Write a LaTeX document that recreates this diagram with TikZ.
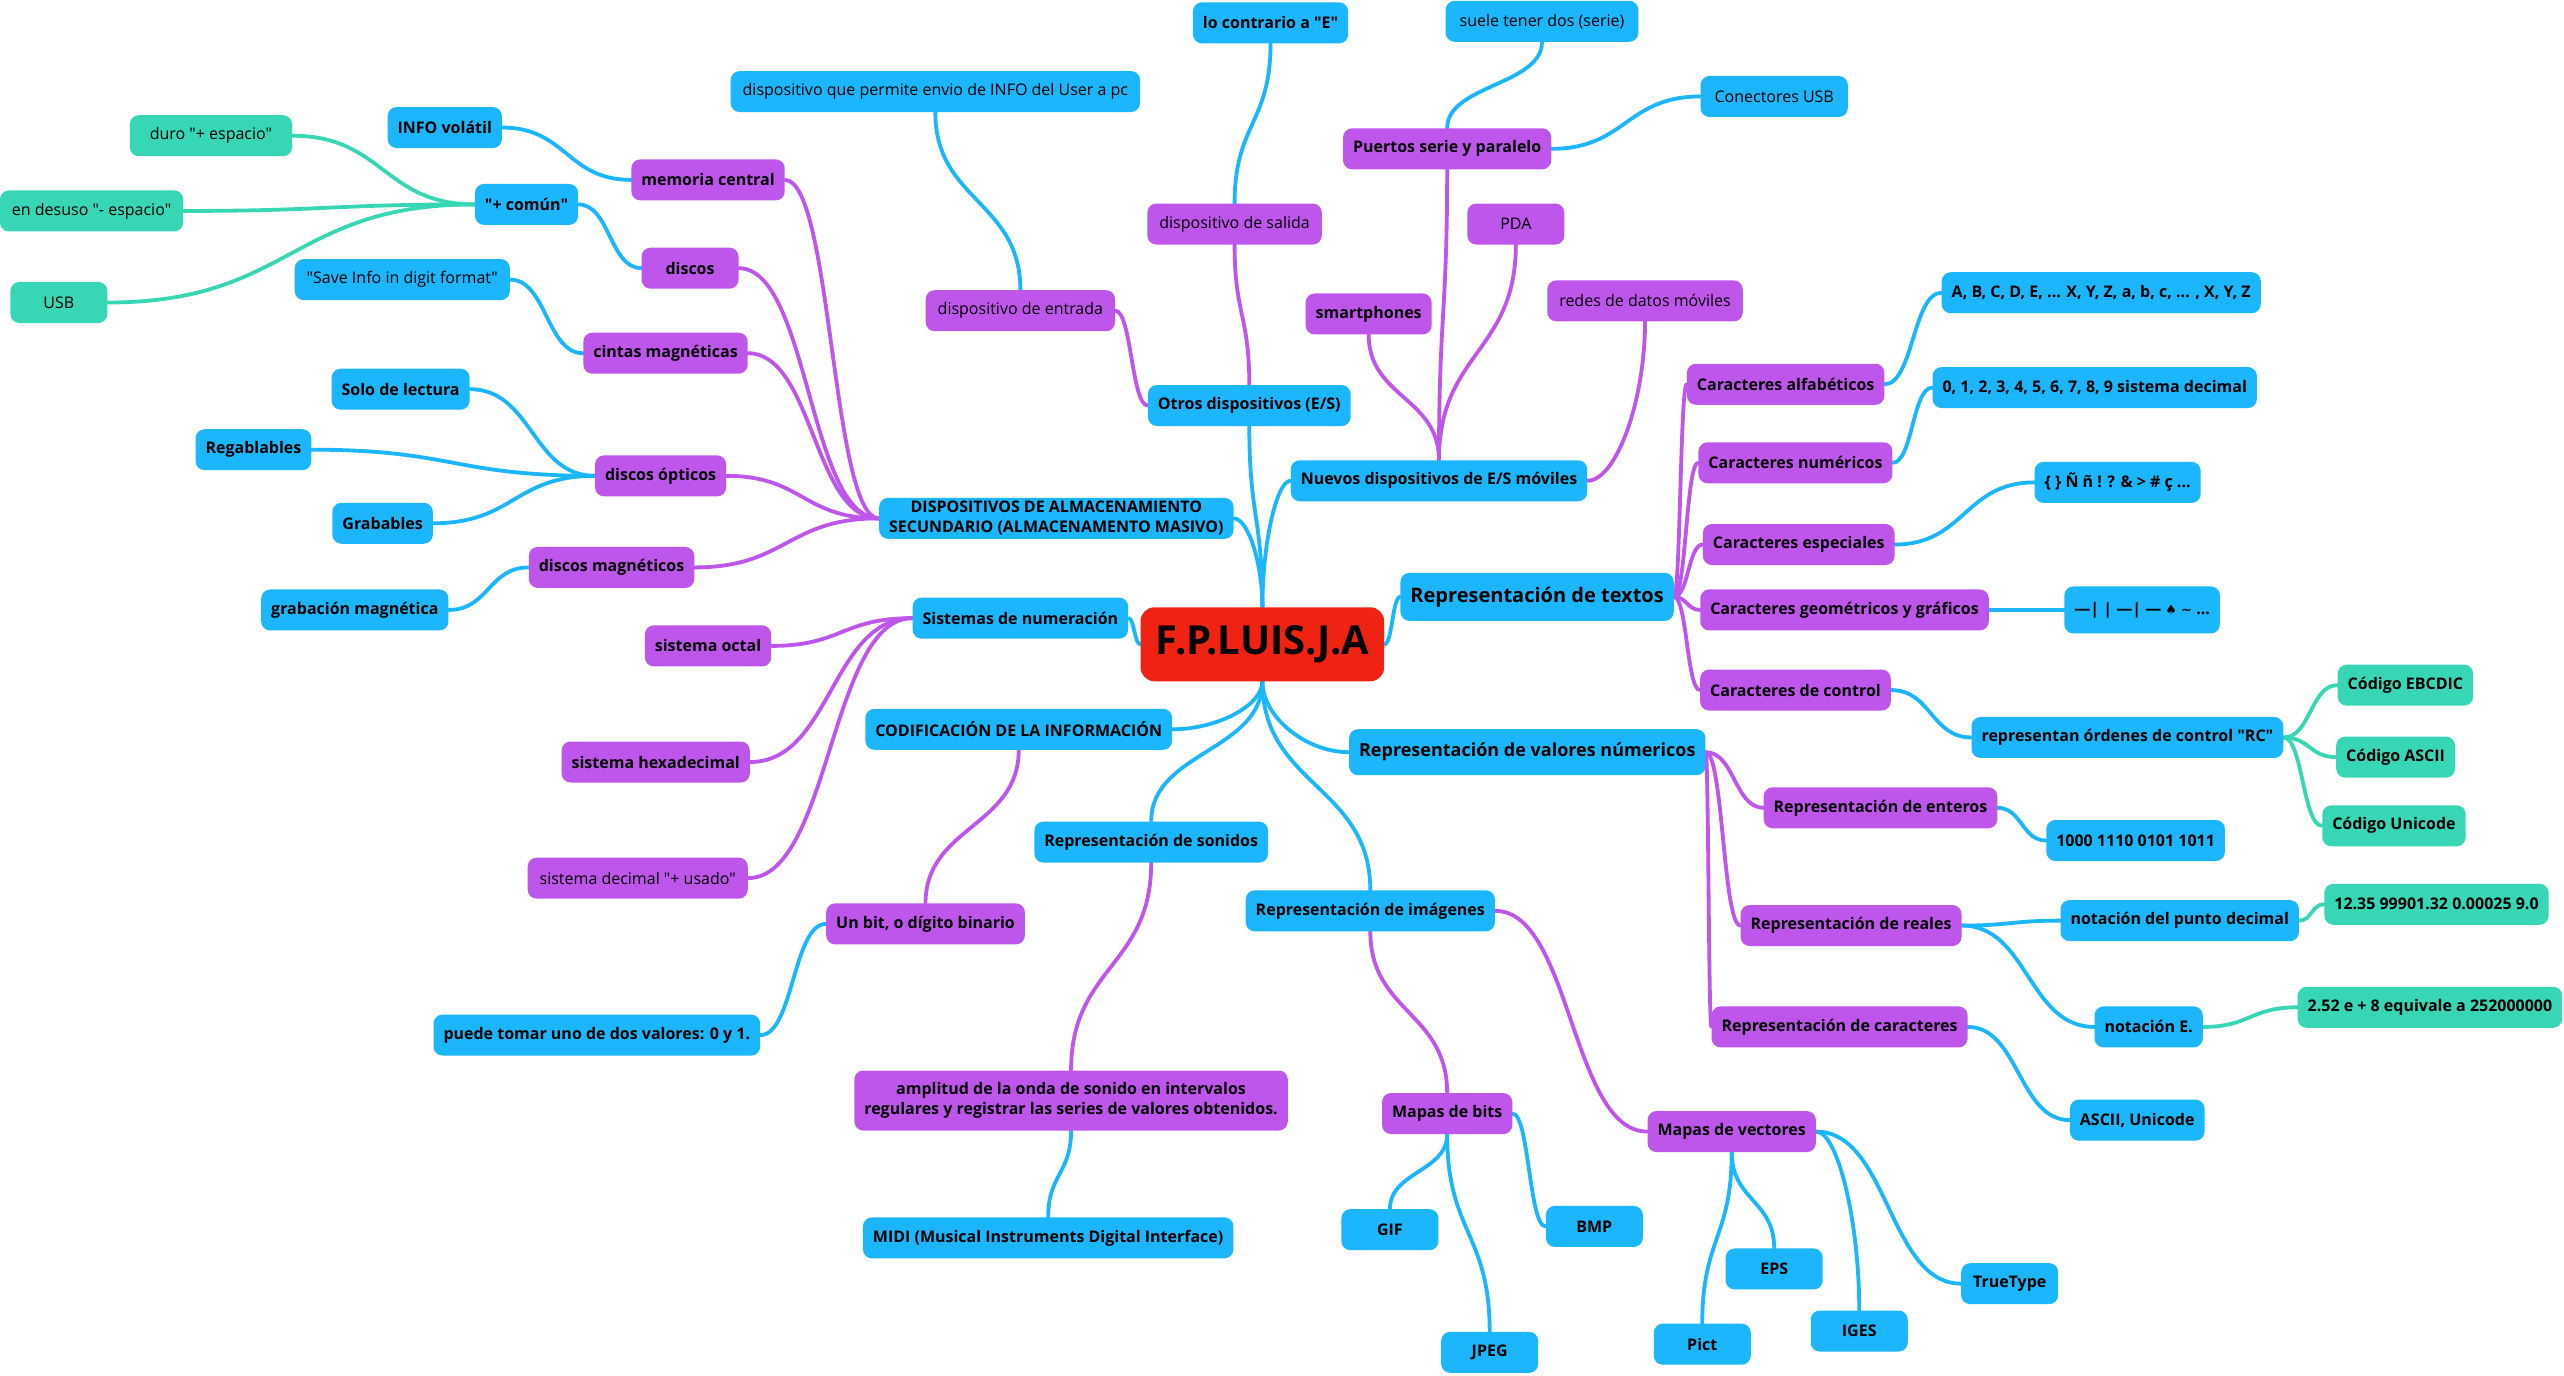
\documentclass[tikz,border=0pt]{standalone}
\usepackage{fontspec}
\setmainfont{Open Sans}[Ligatures=TeXOff]
\newfontfamily\symfont{DejaVu Sans}
\usetikzlibrary{calc,backgrounds}
\definecolor{mmblue}{RGB}{28,182,252}
\definecolor{mmpurple}{RGB}{190,86,236}
\definecolor{mmgreen}{RGB}{55,215,182}
\definecolor{mmred}{RGB}{240,35,19}
\newcommand\mmhh[3]{\draw[#1] let \p1=(#2), \p2=(#3), \p3=($(\p1)!0.5!(\p2)$) in (\p1) .. controls (\x3,\y1) and (\x3,\y2) .. (\p2);}
\newcommand\mmvv[3]{\draw[#1] let \p1=(#2), \p2=(#3), \p3=($(\p1)!0.5!(\p2)$) in (\p1) .. controls (\x1,\y3) and (\x2,\y3) .. (\p2);}
\newcommand\mmvh[3]{\draw[#1] let \p1=(#2), \p2=(#3), \p3=($(\p1)!0.5!(\p2)$) in (\p1) .. controls (\x1,\y3) and (\x3,\y2) .. (\p2);}
\newcommand\mmhv[3]{\draw[#1] let \p1=(#2), \p2=(#3), \p3=($(\p1)!0.5!(\p2)$) in (\p1) .. controls (\x3,\y1) and (\x2,\y3) .. (\p2);}
\tikzset{
  mm/.style={rounded corners=9pt, inner xsep=10pt, inner ysep=2pt, minimum height=41pt, minimum width=97pt,
    font=\fontsize{16}{20}\selectfont\bfseries, align=center, text=black},
  bn/.style={mm, fill=mmblue},
  pn/.style={mm, fill=mmpurple},
  gn/.style={mm, fill=mmgreen},
  rg/.style={font=\fontsize{16}{20}\selectfont\mdseries, inner xsep=12pt},
  big/.style={font=\fontsize{20}{24}\selectfont\bfseries, minimum height=48pt},
  cb/.style={draw=mmblue, line width=3.8pt, line cap=round},
  cp/.style={draw=mmpurple, line width=3.8pt, line cap=round},
  cg/.style={draw=mmgreen, line width=3.8pt, line cap=round},
}
\begin{document}
\begin{tikzpicture}[x=1.6352pt,y=1.6352pt]
\useasboundingbox (0,0) rectangle (1568,-841);
% root
\node[mm, fill=mmred, rounded corners=14pt, inner xsep=15pt, minimum height=74pt, font=\fontsize{40}{44}\selectfont\bfseries] (root) at (772,-394) {F.P.LUIS.J.A};
% level 1
\node[bn] (disp) at (646,-317) {DISPOSITIVOS DE ALMACENAMIENTO\\SECUNDARIO (ALMACENAMENTO MASIVO)};
\node[bn] (sist) at (624,-378) {Sistemas de numeración};
\node[bn] (codif) at (623,-446) {CODIFICACIÓN DE LA INFORMACIÓN};
\node[bn] (sonidos) at (704,-515) {Representación de sonidos};
\node[bn] (imagenes) at (838,-557) {Representación de imágenes};
\node[bn, big, font=\fontsize{18}{22}\selectfont\bfseries, minimum height=46pt] (valores) at (934,-460) {Representación de valores númericos};
\node[bn, big] (textos) at (940,-365) {Representación de textos};
\node[bn] (nuevos) at (880,-294) {Nuevos dispositivos de E/S móviles};
\node[bn] (otros) at (764,-248) {Otros dispositivos (E/S)};
% storage
\node[pn] (memoria) at (433,-110) {memoria central};
\node[pn] (discos) at (422,-164) {discos};
\node[pn] (cintas) at (407,-216) {cintas magnéticas};
\node[pn] (opticos) at (404,-291) {discos ópticos};
\node[pn] (magn) at (374,-347) {discos magnéticos};
\node[bn] (info) at (272,-78) {INFO volátil};
\node[bn] (comun) at (322,-125) {"+ común"};
\node[gn, rg, inner xsep=20pt] (duro) at (129,-83) {duro "+ espacio"};
\node[gn, rg] (desuso) at (56,-129) {en desuso "- espacio"};
\node[gn, rg] (usb) at (36,-185) {USB};
\node[bn, rg] (save) at (246,-171) {"Save Info in digit format"};
\node[bn] (solo) at (245,-238) {Solo de lectura};
\node[bn] (regab) at (155,-275) {Regablables};
\node[bn] (grab) at (234,-320) {Grabables};
\node[bn] (grabmag) at (217,-373) {grabación magnética};
% numeration
\node[pn] (octal) at (433,-395) {sistema octal};
\node[pn] (hexa) at (401,-466) {sistema hexadecimal};
\node[pn, rg] (dec) at (390,-537) {sistema decimal "+ usado"};
% coding
\node[pn] (unbit) at (566,-565) {Un bit, o dígito binario};
\node[bn] (puede) at (365,-633) {puede tomar uno de dos valores: 0 y 1.};
\node[pn, minimum height=60pt] (amplitud) at (655,-673) {amplitud de la onda de sonido en intervalos\\regulares y registrar las series de valores obtenidos.};
\node[bn] (midi) at (641,-757) {MIDI (Musical Instruments Digital Interface)};
% other devices
\node[pn, rg] (entrada) at (624,-190) {dispositivo de entrada};
\node[pn, rg] (salida) at (755,-137) {dispositivo de salida};
\node[bn, rg] (dqp) at (572,-56) {dispositivo que permite envio de INFO del User a pc};
\node[bn] (lc) at (777,-14) {lo contrario a "E"};
\node[pn] (puertos) at (885,-91) {Puertos serie y paralelo};
\node[pn, rg] (pda) at (927,-137) {PDA};
\node[pn] (smart) at (837,-192) {smartphones};
\node[pn, rg] (redes) at (1006,-184) {redes de datos móviles};
\node[bn, rg, inner xsep=14pt] (suele) at (943,-13) {suele tener dos (serie)};
\node[bn, rg, inner xsep=14pt] (conect) at (1085,-59) {Conectores USB};
% texts
\node[pn] (alfa) at (1092,-235) {Caracteres alfabéticos};
\node[pn] (numer) at (1098,-283) {Caracteres numéricos};
\node[pn] (espec) at (1100,-333) {Caracteres especiales};
\node[pn] (geom) at (1128,-373) {Caracteres geométricos y gráficos};
\node[pn] (control) at (1098,-422) {Caracteres de control};
\node[bn] (abc) at (1285,-179) {A, B, C, D, E, ... X, Y, Z, a, b, c, ... , X, Y, Z};
\node[bn] (digits) at (1281,-237) {0, 1, 2, 3, 4, 5, 6, 7, 8, 9 sistema decimal};
\node[bn] (sym) at (1295,-295) {\{ \} Ñ ñ ! ? \& > \# ç ...};
\node[bn, minimum height=47pt] (geo) at (1310,-373) {—| | —| — {\symfont\fontsize{13}{16}\selectfont ♠} {\symfont\fontsize{13}{16}\selectfont \char"223C} ...};
\node[bn] (rc) at (1301,-451) {representan órdenes de control "RC"};
\node[gn] (ebcdic) at (1471,-419) {Código EBCDIC};
\node[gn] (ascii) at (1465,-463) {Código ASCII};
\node[gn] (unicode) at (1464,-505) {Código Unicode};
% numeric values
\node[pn] (enteros) at (1150,-494) {Representación de enteros};
\node[pn] (reales) at (1132,-566) {Representación de reales};
\node[pn] (caract) at (1125,-628) {Representación de caracteres};
\node[bn] (mil) at (1306,-514) {1000 1110 0101 1011};
\node[bn] (punto) at (1333,-563) {notación del punto decimal};
\node[bn] (note) at (1314,-628) {notación E.};
\node[gn] (nums) at (1490,-553) {12.35 99901.32 0.00025 9.0};
\node[gn] (e252) at (1486,-616) {2.52 e + 8 equivale a 252000000};
\node[bn] (asciiu) at (1307,-685) {ASCII, Unicode};
% images
\node[pn] (bits) at (885,-681) {Mapas de bits};
\node[pn] (vect) at (1059,-692) {Mapas de vectores};
\node[bn] (gif) at (850,-752) {GIF};
\node[bn] (jpeg) at (911,-827) {JPEG};
\node[bn] (bmp) at (975,-750) {BMP};
\node[bn] (eps) at (1085,-776) {EPS};
\node[bn] (pict) at (1041,-822) {Pict};
\node[bn] (iges) at (1137,-814) {IGES};
\node[bn] (tt) at (1229,-785) {TrueType};
% connectors
\begin{pgfonlayer}{background}
\fill[white] (0,0) rectangle (1568,-841);
\mmvv{cb}{root.north}{otros.south}
\mmvh{cb}{root.north}{nuevos.west}
\mmvh{cb}{root.north}{disp.east}
\mmhh{cb}{root.west}{sist.east}
\mmhh{cb}{root.east}{textos.west}
\mmvh{cb}{root.south}{codif.east}
\mmvv{cb}{root.south}{sonidos.north}
\mmvv{cb}{root.south}{imagenes.north}
\mmvh{cb}{root.south}{valores.west}
\mmhh{cp}{otros.west}{entrada.east}
\mmvv{cp}{otros.north}{salida.south}
\mmvv{cb}{entrada.north}{dqp.south}
\mmvv{cb}{salida.north}{lc.south}
\mmvv{cp}{nuevos.north}{puertos.south}
\mmvv{cp}{nuevos.north}{pda.south}
\mmvv{cp}{nuevos.north}{smart.south}
\mmhv{cp}{nuevos.east}{redes.south}
\mmvv{cb}{puertos.north}{suele.south}
\mmhh{cb}{puertos.east}{conect.west}
\mmhh{cp}{disp.west}{memoria.east}
\mmhh{cp}{disp.west}{discos.east}
\mmhh{cp}{disp.west}{cintas.east}
\mmhh{cp}{disp.west}{opticos.east}
\mmhh{cp}{disp.west}{magn.east}
\mmhh{cb}{memoria.west}{info.east}
\mmhh{cb}{discos.west}{comun.east}
\mmhh{cg}{comun.west}{duro.east}
\mmhh{cg}{comun.west}{desuso.east}
\mmhh{cg}{comun.west}{usb.east}
\mmhh{cb}{cintas.west}{save.east}
\mmhh{cb}{opticos.west}{solo.east}
\mmhh{cb}{opticos.west}{regab.east}
\mmhh{cb}{opticos.west}{grab.east}
\mmhh{cb}{magn.west}{grabmag.east}
\mmhh{cp}{sist.west}{octal.east}
\mmhh{cp}{sist.west}{hexa.east}
\mmhh{cp}{sist.west}{dec.east}
\mmvv{cp}{codif.south}{unbit.north}
\mmhh{cb}{unbit.west}{puede.east}
\mmvv{cp}{sonidos.south}{amplitud.north}
\mmvv{cb}{amplitud.south}{midi.north}
\mmvv{cp}{imagenes.south}{bits.north}
\mmhh{cp}{imagenes.east}{vect.west}
\mmvv{cb}{bits.south}{gif.north}
\mmvv{cb}{bits.south}{jpeg.north}
\mmhh{cb}{bits.east}{bmp.west}
\mmvv{cb}{vect.south}{eps.north}
\mmvv{cb}{vect.south}{pict.north}
\mmhv{cb}{vect.east}{iges.north}
\mmhh{cb}{vect.east}{tt.west}
\mmhh{cp}{valores.east}{enteros.west}
\mmhh{cp}{valores.east}{reales.west}
\mmhh{cp}{valores.east}{caract.west}
\mmhh{cb}{enteros.east}{mil.west}
\mmhh{cb}{reales.east}{punto.west}
\mmhh{cb}{reales.east}{note.west}
\mmhh{cg}{punto.east}{nums.west}
\mmhh{cg}{note.east}{e252.west}
\mmhh{cb}{caract.east}{asciiu.west}
\mmhh{cp}{textos.east}{alfa.west}
\mmhh{cp}{textos.east}{numer.west}
\mmhh{cp}{textos.east}{espec.west}
\mmhh{cp}{textos.east}{geom.west}
\mmhh{cp}{textos.east}{control.west}
\mmhh{cb}{alfa.east}{abc.west}
\mmhh{cb}{numer.east}{digits.west}
\mmhh{cb}{espec.east}{sym.west}
\mmhh{cb}{geom.east}{geo.west}
\mmhh{cb}{control.east}{rc.west}
\mmhh{cg}{rc.east}{ebcdic.west}
\mmhh{cg}{rc.east}{ascii.west}
\mmhh{cg}{rc.east}{unicode.west}
\end{pgfonlayer}
\end{tikzpicture}
\end{document}
